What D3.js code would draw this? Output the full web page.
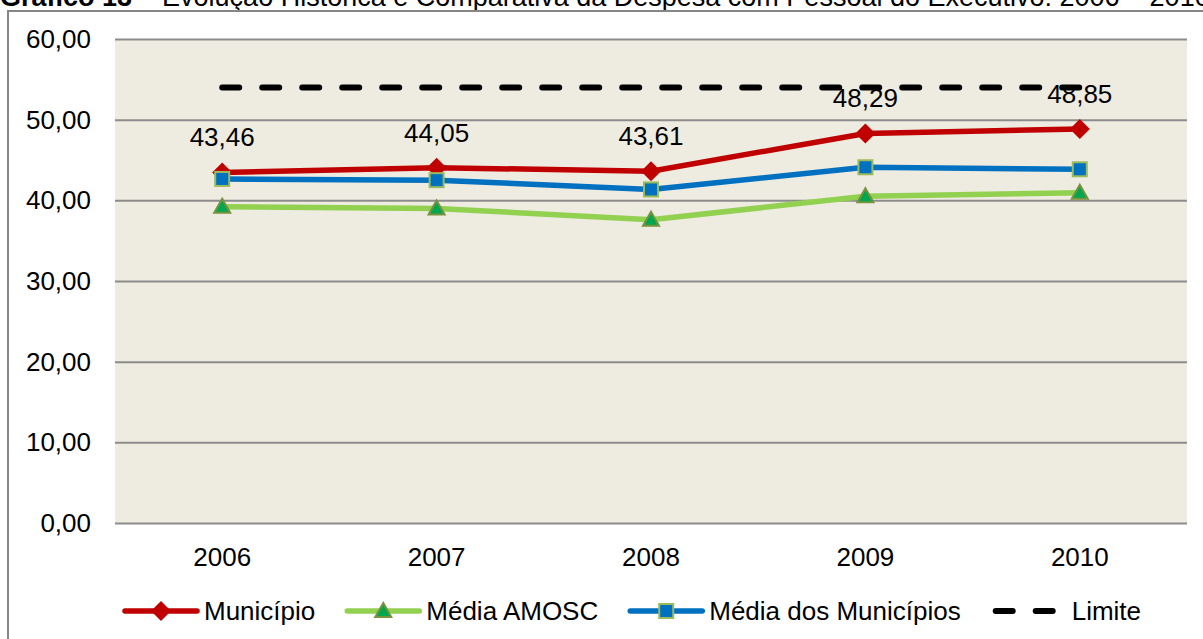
<!DOCTYPE html>
<html lang="pt">
<head>
<meta charset="utf-8">
<title>Gráfico 13</title>
<script src="https://d3js.org/d3.v7.min.js"></script>
<style>
  body { margin: 0; background: #fff; }
  svg text { font-family: "Liberation Sans", Arial, sans-serif; font-size: 26px; fill: #000; }
  .grid line { stroke: #8c8c8c; stroke-width: 2px; }
  .grid path { display: none; }
</style>
</head>
<body>
<div id="chart"></div>
<script>
// data
var anos = ["2006", "2007", "2008", "2009", "2010"];
var municipio = [43.46, 44.05, 43.61, 48.29, 48.85];
var mediaAmosc = [39.2, 39.0, 37.6, 40.5, 40.95];
var mediaMunicipios = [42.65, 42.5, 41.35, 44.1, 43.85];
var limite = [54, 54, 54, 54, 54];
var yTicks = [0, 10, 20, 30, 40, 50, 60];
var tituloNegrito = "Gráfico 13";
var titulo = " – Evolução Histórica e Comparativa da Despesa com Pessoal do Executivo: 2006 – 2010";

var w = 1203, h = 639;
var plotLeft = 115, plotRight = 1187, plotTop = 39, plotBottom = 523;

var svg = d3.select("#chart").append("svg")
  .attr("width", w).attr("height", h);

// title, clipped at top of page
var t = svg.append("text").attr("x", 0).attr("y", 6).style("font-size", "27px");
t.append("tspan").style("font-weight", "bold").text(tituloNegrito);
t.append("tspan").text(titulo);

// outer box
svg.append("rect")
  .attr("x", 8).attr("y", 11)
  .attr("width", 1220).attr("height", 650)
  .attr("fill", "none").attr("stroke", "#868686").attr("stroke-width", 2);

var x = d3.scalePoint().domain(anos).range([plotLeft, plotRight]).padding(0.5);
var y = d3.scaleLinear().domain([0, 60]).range([plotBottom, plotTop]);

// plot background
svg.append("rect")
  .attr("x", plotLeft).attr("y", plotTop)
  .attr("width", plotRight - plotLeft).attr("height", plotBottom - plotTop)
  .attr("fill", "#eeebe0");

// gridlines
svg.append("g").attr("class", "grid")
  .attr("transform", "translate(" + plotLeft + ",0)")
  .call(d3.axisLeft(y).tickValues(yTicks).tickSize(-(plotRight - plotLeft)).tickFormat(""));

// y labels
svg.selectAll(".ylab").data(yTicks).enter().append("text")
  .attr("class", "ylab")
  .attr("x", 91).attr("y", function(d) { return y(d) + 9; })
  .attr("text-anchor", "end")
  .text(function(d) { return d3.format(".2f")(d).replace(".", ","); });

// x labels
svg.selectAll(".xlab").data(anos).enter().append("text")
  .attr("class", "xlab")
  .attr("x", function(d) { return x(d); }).attr("y", 566)
  .attr("text-anchor", "middle")
  .text(function(d) { return d; });

var series = [
  { nome: "Município", vals: municipio, cor: "#c00000", marca: "diamond" },
  { nome: "Média AMOSC", vals: mediaAmosc, cor: "#92d050", marca: "triangle" },
  { nome: "Média dos Municípios", vals: mediaMunicipios, cor: "#0070c0", marca: "square" },
  { nome: "Limite", vals: limite, cor: "#000", marca: "none", dash: true }
];

var line = d3.line()
  .x(function(d, i) { return x(anos[i]); })
  .y(function(d) { return y(d); });

function drawMarker(g, tipo, cx, cy) {
  if (tipo == "diamond") {
    g.append("path")
      .attr("d", "M" + cx + "," + (cy - 10) + "L" + (cx + 10) + "," + cy + "L" + cx + "," + (cy + 10) + "L" + (cx - 10) + "," + cy + "Z")
      .attr("fill", "#c00000");
  } else if (tipo == "triangle") {
    g.append("path")
      .attr("d", "M" + cx + "," + (cy - 8) + "L" + (cx + 8) + "," + (cy + 6) + "L" + (cx - 8) + "," + (cy + 6) + "Z")
      .attr("fill", "#00a650").attr("stroke", "#77933c").attr("stroke-width", 2);
  } else if (tipo == "square") {
    g.append("rect")
      .attr("x", cx - 7).attr("y", cy - 7).attr("width", 14).attr("height", 14)
      .attr("fill", "#0070c0").attr("stroke", "#9bbb59").attr("stroke-width", 2);
  }
}

series.forEach(function(s) {
  var g = svg.append("g");
  var p = g.append("path")
    .datum(s.vals)
    .attr("d", line)
    .attr("fill", "none")
    .attr("stroke", s.cor)
    .attr("stroke-width", s.dash ? 6 : 5.5)
    .attr("stroke-linejoin", "round");
  if (s.dash) {
    p.attr("stroke-dasharray", "17 23").attr("stroke-linecap", "round");
  }
  s.vals.forEach(function(v, i) {
    drawMarker(g, s.marca, x(anos[i]), y(v));
  });
});

// data labels for Município
svg.selectAll(".dlab").data(municipio).enter().append("text")
  .attr("class", "dlab")
  .attr("x", function(d, i) { return x(anos[i]); })
  .attr("y", function(d) { return y(d) - 26; })
  .attr("text-anchor", "middle")
  .text(function(d) { return d3.format(".2f")(d).replace(".", ","); });

// legend
var ly = 611;
var lx = 125;
series.forEach(function(s) {
  var g = svg.append("g");
  if (s.dash) {
    g.append("line")
      .attr("x1", lx + 3).attr("x2", lx + 69).attr("y1", ly).attr("y2", ly)
      .attr("stroke", "#000").attr("stroke-width", 6)
      .attr("stroke-dasharray", "17 23").attr("stroke-linecap", "round");
  } else {
    g.append("line")
      .attr("x1", lx).attr("x2", lx + 72).attr("y1", ly).attr("y2", ly)
      .attr("stroke", s.cor).attr("stroke-width", 5.5).attr("stroke-linecap", "round");
    drawMarker(g, s.marca, lx + 36, ly);
  }
  var txt = g.append("text")
    .attr("x", lx + 79).attr("y", ly + 9)
    .text(s.nome);
  lx = lx + 79 + txt.node().getComputedTextLength() + 32;
});
</script>
</body>
</html>
